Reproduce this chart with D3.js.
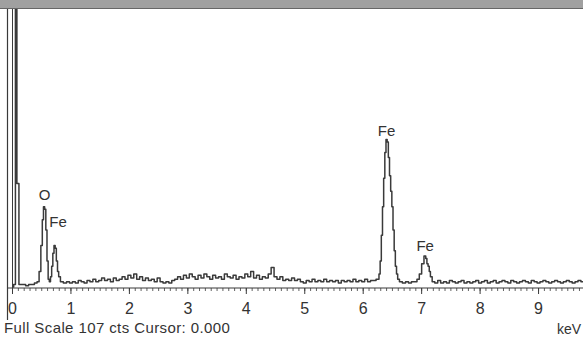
<!DOCTYPE html>
<html>
<head>
<meta charset="utf-8">
<script src="https://cdn.jsdelivr.net/npm/d3@7"></script>
<style>
  html, body { margin: 0; padding: 0; background: #fff; }
  svg { display: block; font-family: "Liberation Sans", Arial, sans-serif; }
</style>
</head>
<body>
<svg width="583" height="337"></svg>
<script>
// EDS spectrum, energy in keV, intensity in counts (full scale 107 cts)
const fullScale = 107;

// zero (noise) peak, runs off scale
const zeroPeak = [[0.00, 0], [0.04, 1], [0.06, 115], [0.09, 40], [0.13, 1]];

// O K and Fe L region
const lowEnergy = [
  [0.15, 1], [0.20, 1], [0.25, 0.5], [0.30, 1], [0.35, 1], [0.40, 1.5], [0.44, 2],
  [0.47, 6], [0.50, 16], [0.52, 26], [0.54, 31], [0.56, 30], [0.58, 22], [0.60, 10],
  [0.62, 3], [0.64, 2], [0.66, 4], [0.68, 8], [0.70, 13], [0.72, 16], [0.74, 15],
  [0.76, 10], [0.78, 6], [0.80, 4], [0.84, 2], [0.90, 1.5], [0.95, 2]
];

// background between 1 and 6.2 keV
const midNoise = [
  [1.00, 1.5], [1.05, 2], [1.10, 1.5], [1.15, 2.5], [1.20, 2], [1.25, 1.5], [1.30, 2.5],
  [1.35, 2], [1.40, 3], [1.45, 2], [1.50, 2.5], [1.55, 3.5], [1.60, 2.5], [1.65, 3],
  [1.70, 2], [1.75, 3.5], [1.80, 2.5], [1.85, 3], [1.90, 4], [1.95, 3], [2.00, 4.5],
  [2.05, 3.5], [2.10, 5], [2.15, 3], [2.20, 4], [2.25, 2.5], [2.30, 3.5], [2.35, 2.5],
  [2.40, 3], [2.45, 2], [2.50, 3.5], [2.55, 2], [2.60, 1.5], [2.65, 2], [2.70, 1.5],
  [2.75, 2.5], [2.80, 3], [2.85, 4], [2.90, 3], [2.95, 4.5], [3.00, 3.5], [3.05, 5],
  [3.10, 4], [3.15, 3], [3.20, 4.5], [3.25, 3.5], [3.30, 5], [3.35, 4], [3.40, 3],
  [3.45, 4.5], [3.50, 3.5], [3.55, 4], [3.60, 3], [3.65, 5], [3.70, 4], [3.75, 3.5],
  [3.80, 4.5], [3.85, 3], [3.90, 4], [3.95, 3.5], [4.00, 5], [4.05, 4], [4.10, 6],
  [4.15, 3.5], [4.20, 4.5], [4.25, 3], [4.30, 4], [4.35, 3.5], [4.40, 5], [4.45, 7.5],
  [4.50, 4], [4.55, 3], [4.60, 4], [4.65, 2.5], [4.70, 3], [4.75, 2.5], [4.80, 3.5],
  [4.85, 2.5], [4.90, 3], [4.95, 2], [5.00, 1.5], [5.05, 2.5], [5.10, 2], [5.15, 3],
  [5.20, 2], [5.25, 2.5], [5.30, 2], [5.35, 3], [5.40, 2], [5.45, 2.5], [5.50, 2],
  [5.55, 2.5], [5.60, 1.5], [5.65, 2.5], [5.70, 2], [5.75, 2.5], [5.80, 2], [5.85, 3],
  [5.90, 2], [5.95, 2.5], [6.00, 2], [6.05, 3], [6.10, 2], [6.15, 2.5], [6.20, 2.5]
];

// Fe K alpha and K beta
const feK = [
  [6.24, 3], [6.26, 3], [6.28, 5], [6.30, 10], [6.32, 20], [6.34, 31], [6.36, 42],
  [6.38, 52], [6.40, 57], [6.42, 56], [6.44, 50], [6.46, 43], [6.48, 37], [6.50, 31],
  [6.52, 22], [6.54, 14], [6.56, 8], [6.58, 5], [6.60, 3], [6.64, 2], [6.70, 1.5],
  [6.75, 2], [6.80, 1.5], [6.85, 2], [6.90, 2], [6.94, 3], [6.98, 5], [7.02, 9],
  [7.06, 12], [7.08, 11], [7.10, 9], [7.12, 8], [7.14, 6], [7.16, 4], [7.20, 2]
];

// background above 7.2 keV
const highNoise = [
  [7.25, 1.5], [7.30, 2.5], [7.35, 1.5], [7.40, 2], [7.45, 1.5], [7.50, 2.5], [7.55, 2],
  [7.60, 1.5], [7.65, 2], [7.70, 2.5], [7.75, 1.5], [7.80, 2], [7.85, 1.5], [7.90, 2],
  [7.95, 2.5], [8.00, 1.5], [8.05, 2], [8.10, 2.5], [8.15, 1.5], [8.20, 2], [8.25, 2.5],
  [8.30, 1.5], [8.35, 2], [8.40, 2.5], [8.45, 2], [8.50, 1.5], [8.55, 2.5], [8.60, 2],
  [8.65, 1.5], [8.70, 2], [8.75, 2.5], [8.80, 2], [8.85, 1.5], [8.90, 2.5], [8.95, 2],
  [9.00, 1.5], [9.05, 2], [9.10, 2.5], [9.15, 2], [9.20, 1.5], [9.25, 2], [9.30, 2.5],
  [9.35, 2], [9.40, 1.5], [9.45, 2], [9.50, 2.5], [9.55, 2], [9.60, 1.5], [9.65, 2],
  [9.70, 2.5], [9.75, 2], [9.80, 1.5]
];

const tickLabels = [0, 1, 2, 3, 4, 5, 6, 7, 8, 9];

const peakLabels = [
  { text: "O", keV: 0.55, cts: 33.5 },
  { text: "Fe", keV: 0.78, cts: 23 },
  { text: "Fe", keV: 6.40, cts: 58.5 },
  { text: "Fe", keV: 7.06, cts: 14 }
];

const spectrum = zeroPeak.concat(lowEnergy, midNoise, feK, highNoise);

const svg = d3.select("svg");
const ink = "#3a3a3a";

const x = d3.scaleLinear().domain([0, 10]).range([12.5, 597]);
const y = d3.scaleLinear().domain([0, fullScale]).range([287, 10]);

// scanned header strip
svg.append("rect")
    .attr("x", 0).attr("y", 0).attr("width", 583).attr("height", 8)
    .attr("fill", "#a0a0a0");
svg.append("line")
    .attr("x1", 0).attr("x2", 583).attr("y1", 8.5).attr("y2", 8.5)
    .attr("stroke", "#666").attr("stroke-width", 1);

// left frame lines
svg.append("line")
    .attr("x1", 7.5).attr("x2", 7.5).attr("y1", 9).attr("y2", 320)
    .attr("stroke", ink).attr("stroke-width", 1.2);
svg.append("line")
    .attr("x1", 12.5).attr("x2", 12.5).attr("y1", 9).attr("y2", 288)
    .attr("stroke", ink).attr("stroke-width", 1);

// energy axis
const axis = svg.append("g").attr("transform", "translate(0,288)");
axis.append("line")
    .attr("x1", 7).attr("x2", 583)
    .attr("stroke", ink).attr("stroke-width", 1.2);
axis.selectAll(".minor")
    .data(d3.range(0, 98).map(i => i / 10))
    .join("line")
    .attr("x1", d => x(d)).attr("x2", d => x(d))
    .attr("y1", 0).attr("y2", 3)
    .attr("stroke", ink).attr("stroke-width", 0.8);
axis.selectAll(".major")
    .data(tickLabels)
    .join("line")
    .attr("x1", d => x(d)).attr("x2", d => x(d))
    .attr("y1", 0).attr("y2", 6)
    .attr("stroke", ink).attr("stroke-width", 1);
axis.selectAll("text")
    .data(tickLabels)
    .join("text")
    .attr("x", d => x(d))
    .attr("y", 26)
    .attr("text-anchor", "middle")
    .attr("font-size", 16)
    .attr("fill", "#333")
    .text(d => d);

// spectrum trace
svg.append("clipPath").attr("id", "plotClip")
  .append("rect").attr("x", 8).attr("y", 9).attr("width", 580).attr("height", 282);

const line = d3.line()
    .x(d => x(d[0]))
    .y(d => y(d[1]))
    .curve(d3.curveStep);

svg.append("path")
    .datum(spectrum)
    .attr("clip-path", "url(#plotClip)")
    .attr("d", line)
    .attr("fill", "none")
    .attr("stroke", ink)
    .attr("stroke-width", 1.5)
    .attr("stroke-linejoin", "round");

// peak labels
svg.selectAll(".peak")
    .data(peakLabels)
    .join("text")
    .attr("x", d => x(d.keV))
    .attr("y", d => y(d.cts))
    .attr("text-anchor", "middle")
    .attr("font-size", 15)
    .attr("fill", "#333")
    .text(d => d.text);

// footer
svg.append("text")
    .attr("x", 4).attr("y", 333)
    .attr("font-size", 15)
    .attr("letter-spacing", 0.4)
    .attr("fill", "#333")
    .text("Full Scale 107 cts Cursor: 0.000");
svg.append("text")
    .attr("x", 581).attr("y", 334)
    .attr("text-anchor", "end")
    .attr("font-size", 14)
    .attr("fill", "#333")
    .text("keV");
</script>
</body>
</html>
